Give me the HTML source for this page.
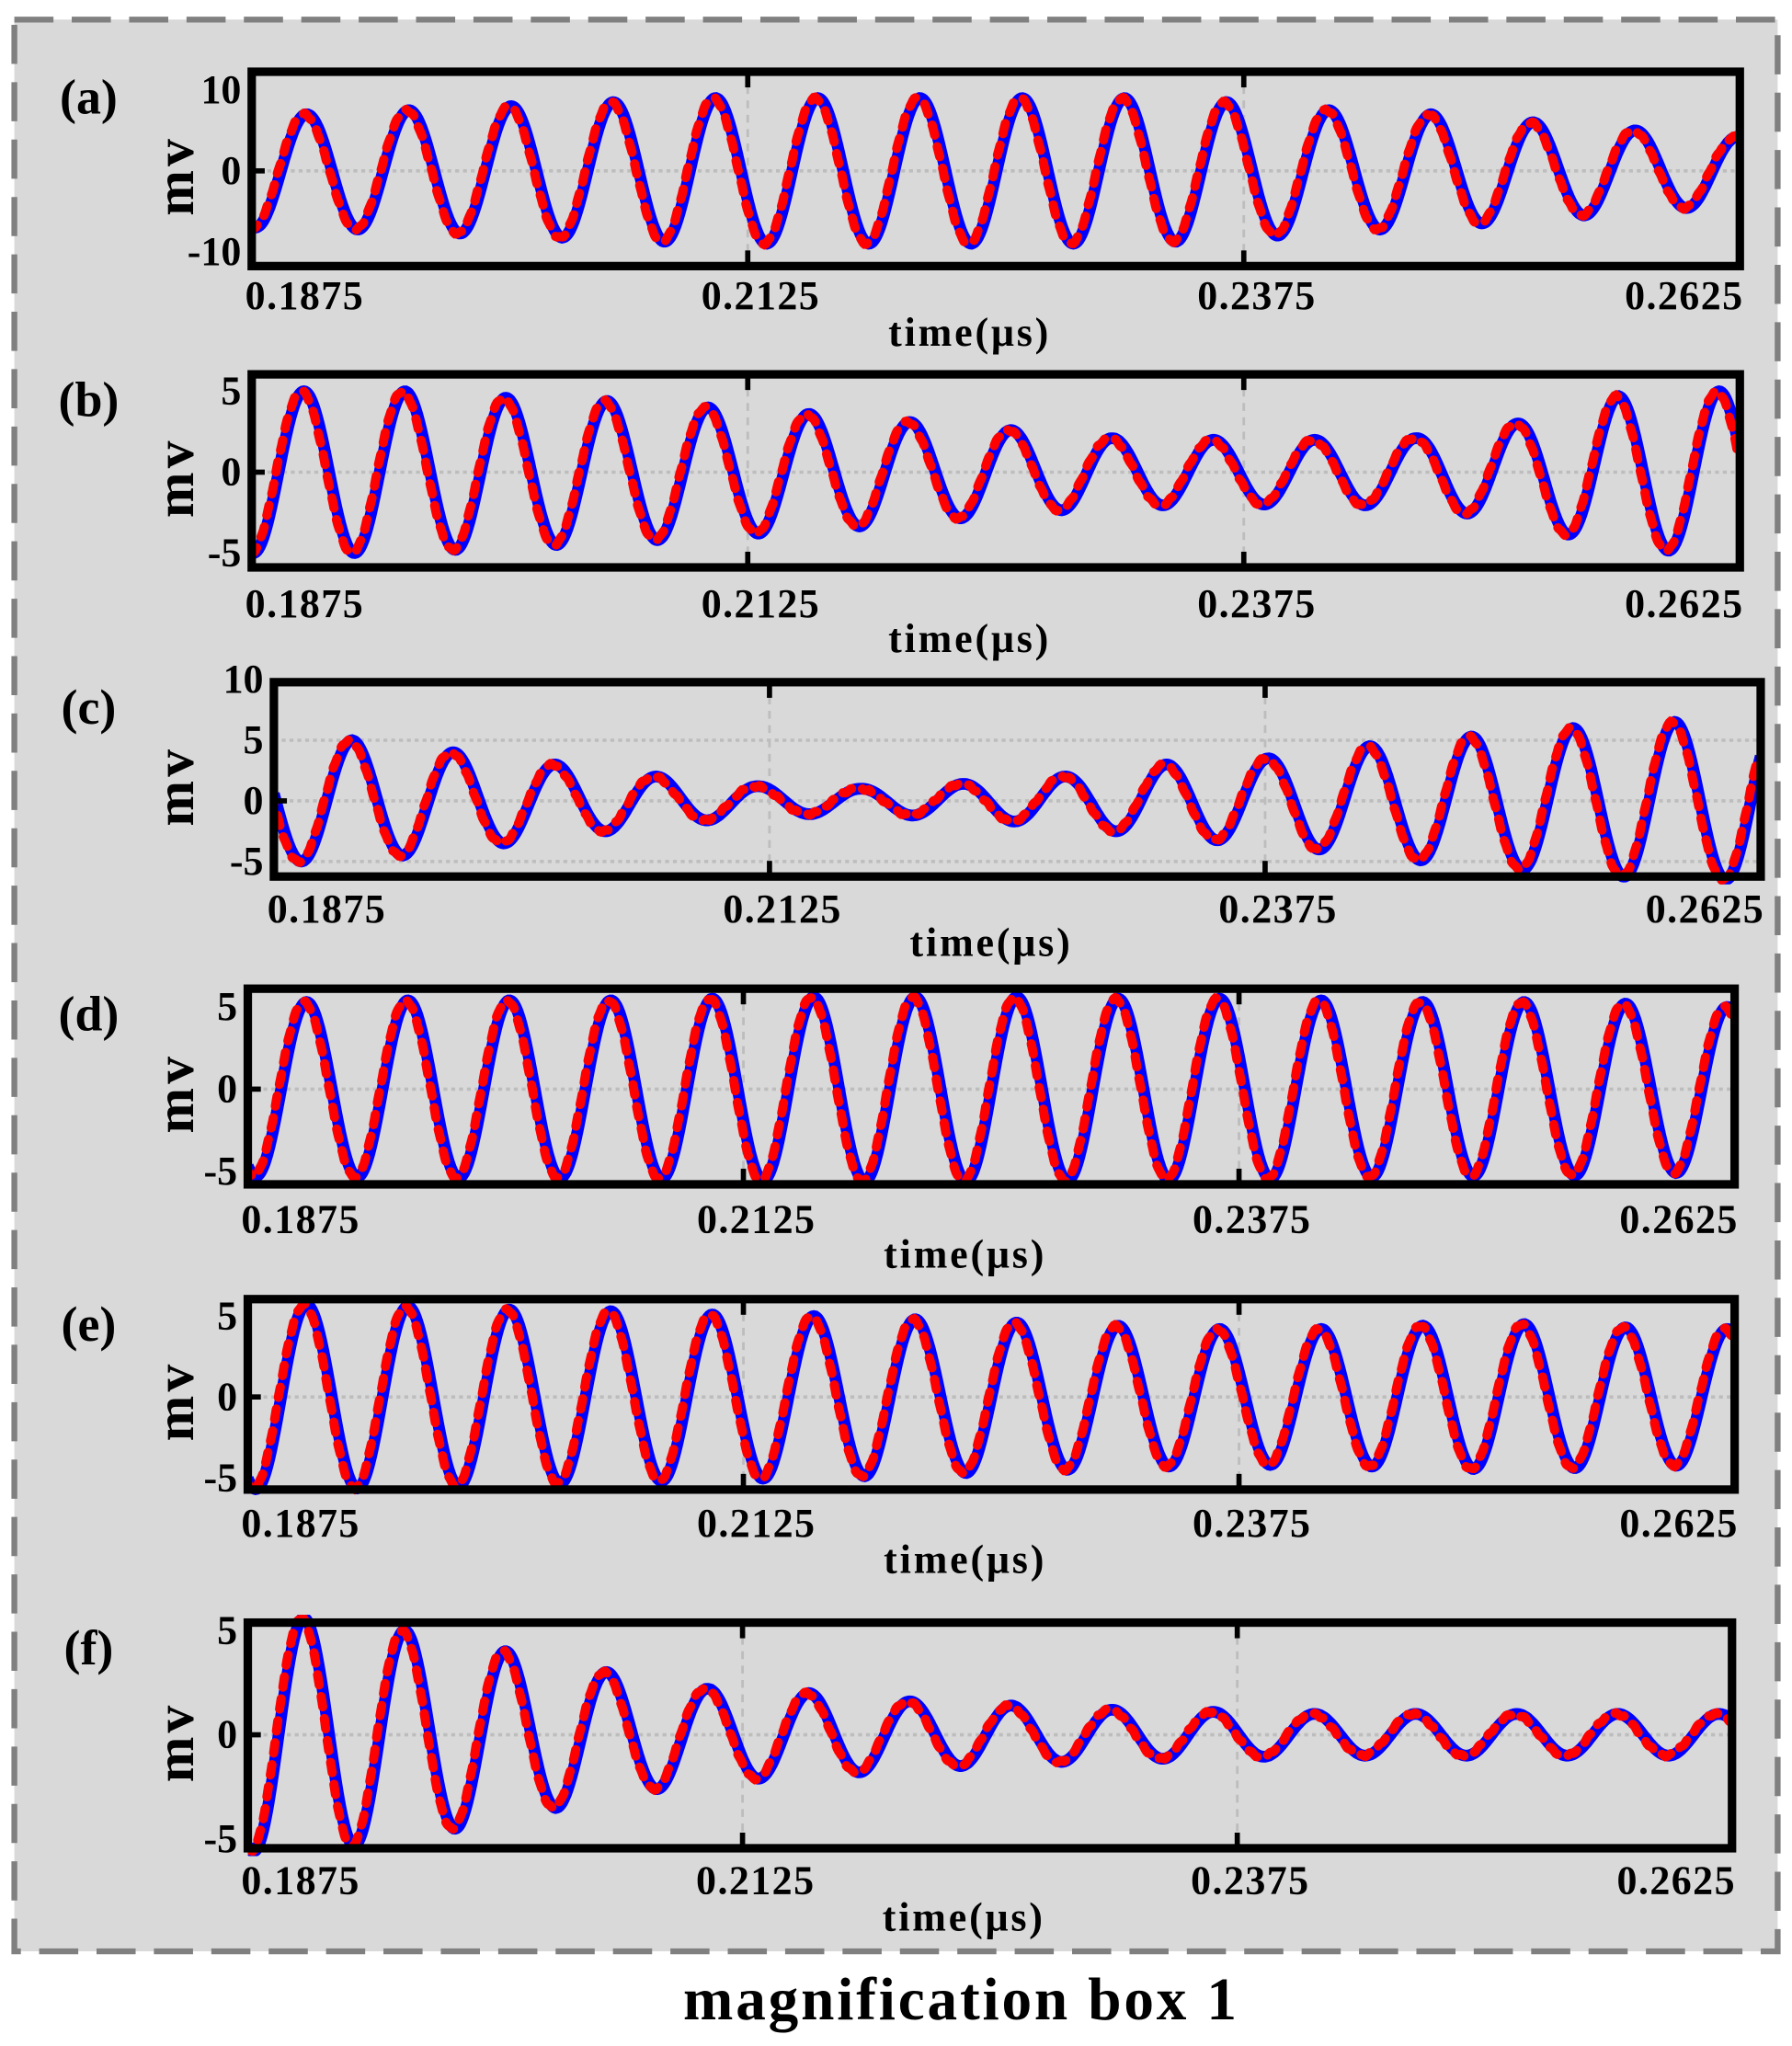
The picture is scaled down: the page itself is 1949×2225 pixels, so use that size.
<!DOCTYPE html>
<html><head><meta charset="utf-8"><style>
html,body{margin:0;padding:0;background:#fff;}
svg{display:block;}
text{font-family:"Liberation Serif",serif;font-weight:bold;fill:#000;}
</style></head><body>
<svg id="s" width="1949" height="2225" viewBox="0 0 1374 1568.6" preserveAspectRatio="none" xmlns="http://www.w3.org/2000/svg">
<rect x="0" y="0" width="1374" height="1569" fill="#fff"/>
<rect x="11" y="15" width="1352" height="1481" fill="#d9d9d9" stroke="#808080" stroke-width="4.5" stroke-dasharray="30 14"/>
<text x="737" y="1548" font-size="46" text-anchor="middle" letter-spacing="2">magnification box 1</text>
<g id="g"></g>
</svg>
<script>
var panels=[
 {lab:"(a)",x0:193,x1:1334,y0:55,y1:204,zero:131,sc:6.2,ticks:[[10,"10"],[0,"0"],[-10,"-10"]],lx:227,tl:255,grid:[0],
  p0:235,P:78.4,amps:[7,7.5,8,8.5,9,9,9,9,9,8.5,7.5,7,6,5,4.2,4]},
 {lab:"(b)",x0:193,x1:1334,y0:287,y1:435,zero:362,sc:12.4,ticks:[[5,"5"],[0,"0"],[-5,"-5"]],lx:463,tl:490,grid:[0],
  p0:233,P:77.5,amps:[5,5,4.6,4.4,4,3.6,3.1,2.6,2.1,2,2,2.1,3,4.7,5,5]},
 {lab:"(c)",x0:210,x1:1350,y0:523,y1:672,zero:614,sc:9.3,ticks:[[10,"10"],[5,"5"],[0,"0"],[-5,"-5"]],lx:697,tl:723,grid:[0,5,-5],
  p0:270,P:78,amps:[5,4,3,2,1.2,1,1.4,2,3,3.5,4.5,5.3,6,6.5,6.5]},
 {lab:"(d)",x0:190,x1:1330,y0:758,y1:908,zero:835,sc:12.6,ticks:[[5,"5"],[0,"0"],[-5,"-5"]],lx:935,tl:962,grid:[0],
  p0:235,P:77.8,amps:[5.3,5.4,5.4,5.4,5.5,5.6,5.6,5.6,5.5,5.5,5.4,5.3,5.3,5.2,5,5]},
 {lab:"(e)",x0:190,x1:1330,y0:996,y1:1142,zero:1071,sc:12.4,ticks:[[5,"5"],[0,"0"],[-5,"-5"]],lx:1168,tl:1196,grid:[0],
  p0:235,P:77.8,amps:[5.7,5.6,5.4,5.3,5.1,5,4.8,4.6,4.4,4.2,4.2,4.4,4.5,4.3,4.2,4.2]},
 {lab:"(f)",x0:190,x1:1328,y0:1244,y1:1417,zero:1330,sc:16,ticks:[[5,"5"],[0,"0"],[-5,"-5"]],lx:1442,tl:1470,grid:[0],
  p0:233,P:77.5,amps:[5.6,5,4,3,2.2,2,1.6,1.4,1.2,1.1,1,1,1,1,1,1]}
];
var h="";
panels.forEach(function(p){
 var w=p.x1-p.x0, t1=p.x0+w/3, t2=p.x0+2*w/3;
 var id="c"+p.lab.charAt(1);
 h+='<clipPath id="'+id+'"><rect x="'+p.x0+'" y="'+(p.y0-6)+'" width="'+w+'" height="'+(p.y1-p.y0+12)+'"/></clipPath>';
 [t1,t2].forEach(function(x){h+='<line x1="'+x+'" y1="'+p.y0+'" x2="'+x+'" y2="'+p.y1+'" stroke="#bdbdbd" stroke-width="2" stroke-dasharray="6 5"/>';});
 p.grid.forEach(function(v){var y=p.zero-v*p.sc;h+='<line x1="'+p.x0+'" y1="'+y+'" x2="'+p.x1+'" y2="'+y+'" stroke="#bdbdbd" stroke-width="2.5" stroke-dasharray="3 3"/>';});
 var d1="",d2="";
 for(var x=p.x0;x<=p.x1;x+=1){
  var k=(x-p.p0)/p.P; var i=Math.floor(k); var f=k-i;
  var a0=p.amps[Math.max(0,Math.min(p.amps.length-1,i))], a1=p.amps[Math.max(0,Math.min(p.amps.length-1,i+1))];
  var a=a0+(a1-a0)*f;
  var v=a*Math.cos(2*Math.PI*k);
  var y=p.zero-v*p.sc;
  var y2=y+0.8*Math.sin(x*0.9);
  d1+=(x==p.x0?"M":"L")+x+" "+y.toFixed(1);
  d2+=(x==p.x0?"M":"L")+(x-2)+" "+y2.toFixed(1);
 }
 h+='<g clip-path="url(#'+id+')"><path d="'+d1+'" fill="none" stroke="#0000ff" stroke-width="9"/>';
 h+='<path d="'+d2+'" fill="none" stroke="#ff0000" stroke-width="7" stroke-dasharray="8 9" stroke-linecap="round"/></g>';
 h+='<rect x="'+p.x0+'" y="'+p.y0+'" width="'+w+'" height="'+(p.y1-p.y0)+'" fill="none" stroke="#000" stroke-width="6.5"/>';
 [t1,t2].forEach(function(x){h+='<line x1="'+x+'" y1="'+p.y0+'" x2="'+x+'" y2="'+(p.y0+12)+'" stroke="#000" stroke-width="4"/><line x1="'+x+'" y1="'+p.y1+'" x2="'+x+'" y2="'+(p.y1-12)+'" stroke="#000" stroke-width="4"/>';});
 h+='<line x1="'+p.x0+'" y1="'+p.zero+'" x2="'+(p.x0+10)+'" y2="'+p.zero+'" stroke="#000" stroke-width="4"/>';
 p.ticks.forEach(function(t){h+='<text x="'+(p.x0-8)+'" y="'+(p.zero-t[0]*p.sc+10)+'" font-size="31" text-anchor="end">'+t[1]+'</text>';});
 var xl=["0.1875","0.2125","0.2375","0.2625"],xs=[p.x0,t1,t2,p.x1];
 xl.forEach(function(s,j){var anc=j==0?"start":(j==3?"end":"middle");var xx=j==0?p.x0-5:(j==3?p.x1+3:xs[j]+10);
  h+='<text x="'+xx+'" y="'+(p.lx+10)+'" font-size="31" text-anchor="'+anc+'" letter-spacing="1">'+s+'</text>';});
 h+='<text x="'+((p.x0+p.x1)/2-20)+'" y="'+(p.tl+10)+'" font-size="31" text-anchor="middle" letter-spacing="2">time(μs)</text>';
 h+='<text x="68" y="'+(p.y0+32)+'" font-size="38" text-anchor="middle">'+p.lab+'</text>';
 var my=(p.y0+p.y1)/2+5;
 h+='<text transform="translate(148,'+my+') rotate(-90)" font-size="42" text-anchor="middle" letter-spacing="3">mv</text>';
});
document.getElementById("g").innerHTML=h;
</script>
</body></html>
